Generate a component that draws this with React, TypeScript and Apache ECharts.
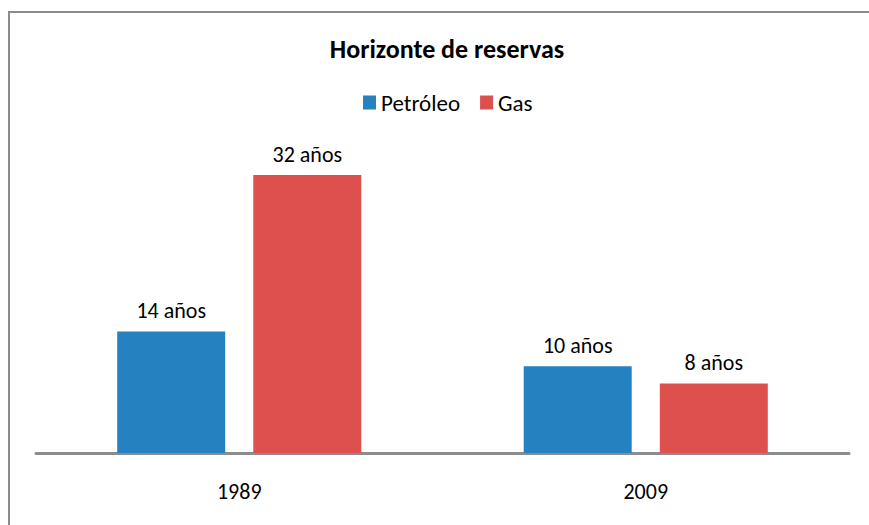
import React, { useEffect, useRef } from "react";
import * as echarts from "echarts";

const categories = ["1989", "2009"];
const petroleo = [14, 10];
const gas = [32, 8];
const seriesNames = ["Petróleo", "Gas"];
const titleText = "Horizonte de reservas";
const unit = "años";

const FONT = "Carlito, Lato, 'Open Sans', sans-serif";

export default function App() {
  const ref = useRef<HTMLDivElement>(null);
  useEffect(() => {
    if (!ref.current) return;
    const chart = echarts.init(ref.current, undefined, { renderer: "svg" });
    const label = {
      show: true,
      position: "top",
      distance: 10,
      color: "#000",
      fontSize: 22,
      fontFamily: FONT,
      formatter: (p: any) => `${p.value} ${unit}`,
    };
    chart.setOption({
      animation: false,
      backgroundColor: "#fff",
      title: {
        text: titleText,
        left: 442,
        textAlign: "center",
        top: 31,
        textStyle: { fontSize: 26, fontWeight: "bold", color: "#000", fontFamily: FONT },
      },
      legend: {
        data: seriesNames,
        left: 358,
        top: 86,
        itemWidth: 13,
        itemHeight: 14,
        itemGap: 20,
        icon: "rect",
        textStyle: { fontSize: 23, color: "#000", fontFamily: FONT },
      },
      graphic: [
        {
          type: "rect",
          shape: { x: 9, y: 12, width: 900, height: 600 },
          style: { fill: "none", stroke: "#8c8c8c", lineWidth: 2 },
          silent: true,
        },
      ],
      grid: { left: 36, right: 20, top: 105.5, bottom: 72 },
      xAxis: {
        type: "category",
        data: categories,
        axisLine: { show: true, lineStyle: { color: "#8c8c8c", width: 3 } },
        axisTick: { show: false },
        axisLabel: { fontSize: 22, color: "#000", fontFamily: FONT, margin: 27 },
      },
      yAxis: {
        type: "value",
        min: 0,
        max: 40,
        show: false,
        splitLine: { show: false },
      },
      series: [
        {
          name: seriesNames[0],
          type: "bar",
          data: petroleo,
          barWidth: 108,
          barGap: "26%",
          itemStyle: { color: "#2681C0" },
          label,
        },
        {
          name: seriesNames[1],
          type: "bar",
          data: gas,
          barWidth: 108,
          barGap: "26%",
          itemStyle: { color: "#DD504E" },
          label,
        },
      ],
    });
    return () => chart.dispose();
  }, []);
  return (
    <div
      ref={ref}
      style={{ position: "absolute", left: 0, top: 0, width: 869, height: 525 }}
    />
  );
}
